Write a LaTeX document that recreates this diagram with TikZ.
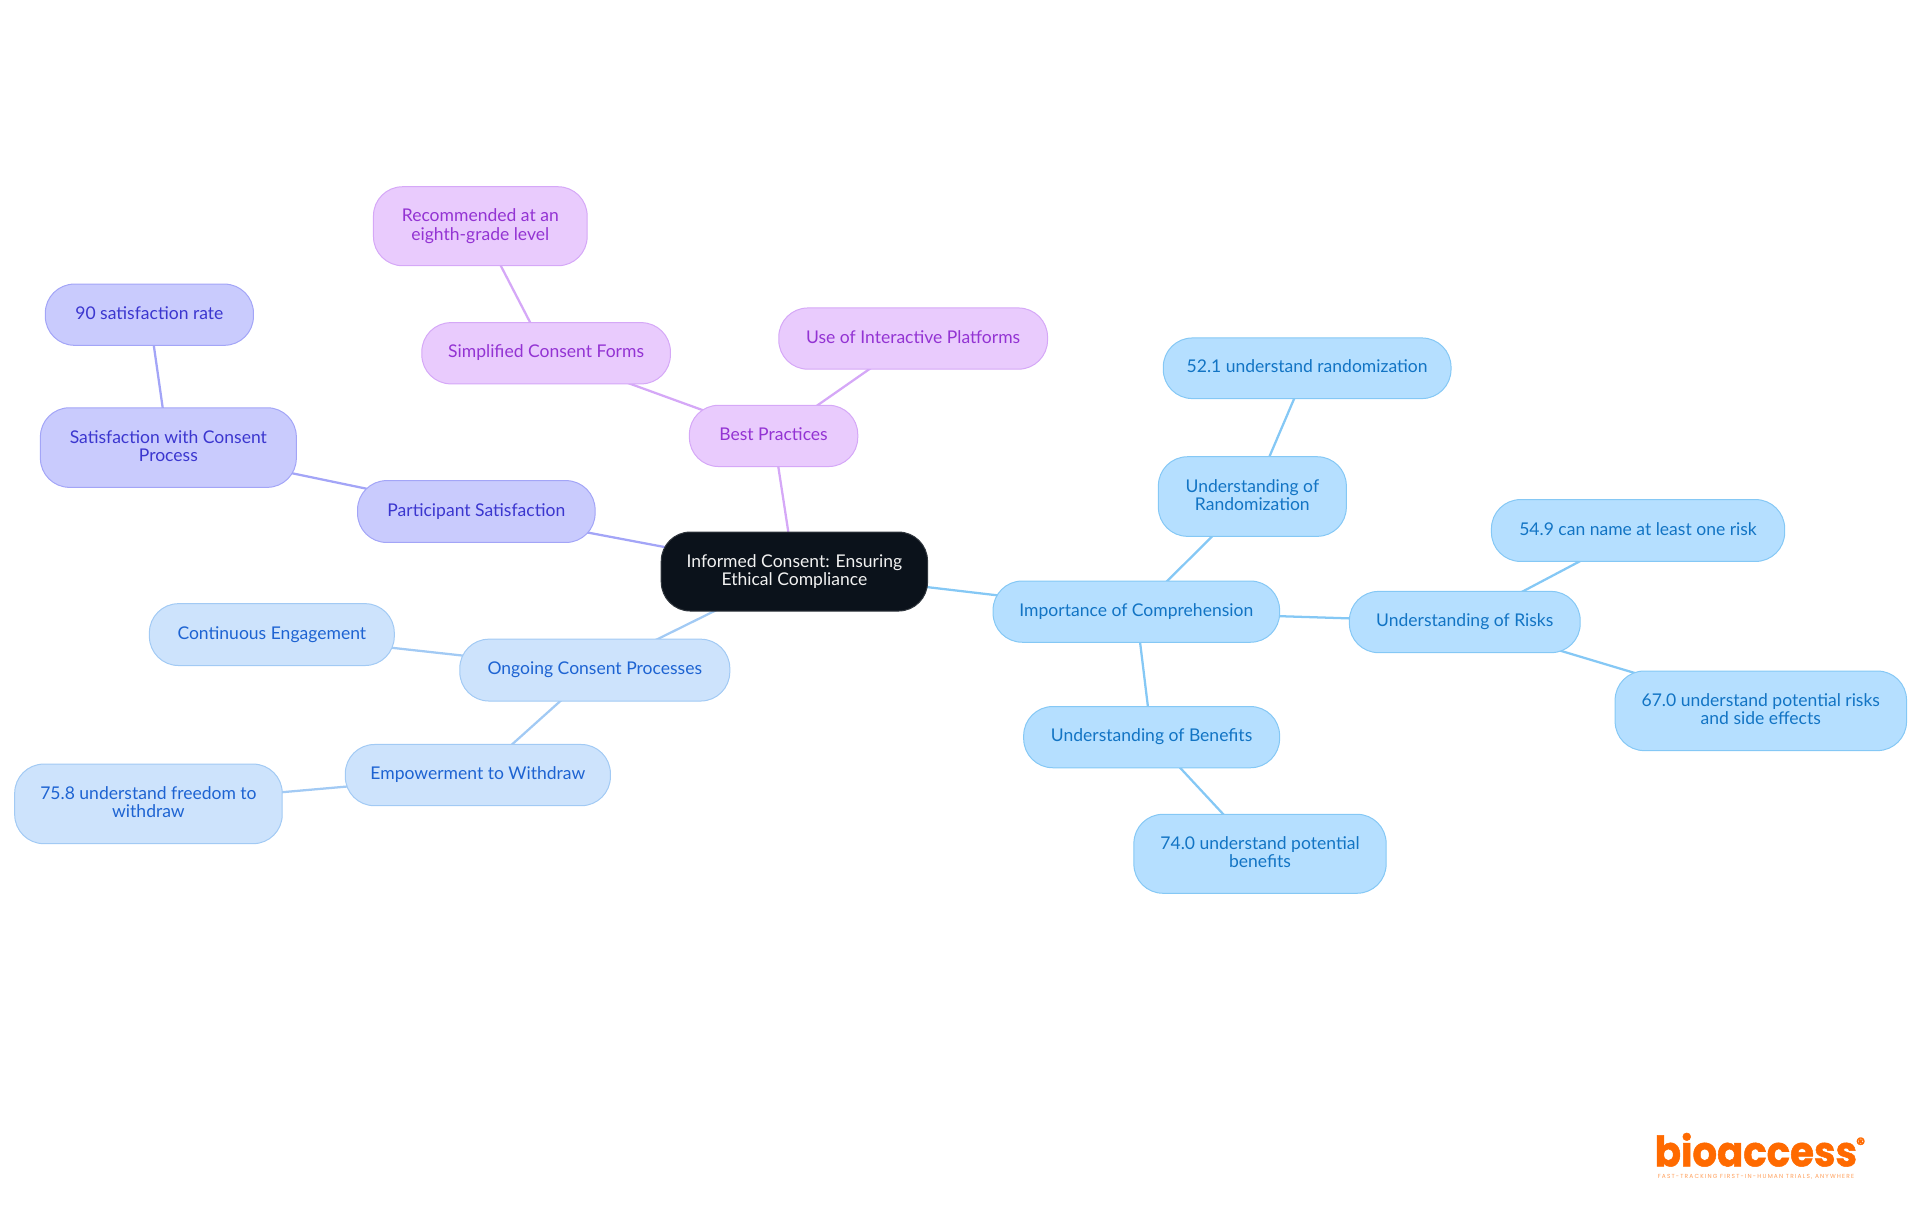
\documentclass[tikz,border=0pt]{standalone}
\usepackage{fontspec}
\setmainfont{Lato}
\newfontfamily\logofont[FakeBold=1.2]{Poppins}
\newfontfamily\logotag[LetterSpace=20]{Poppins}
\usetikzlibrary{backgrounds}
\definecolor{rootfill}{HTML}{0B121B}
\definecolor{skyfill}{HTML}{B5DFFF}
\definecolor{skyline}{HTML}{85C8F5}
\definecolor{skytext}{HTML}{1274C4}
\definecolor{bluefill}{HTML}{CDE3FC}
\definecolor{blueline}{HTML}{A2CAF4}
\definecolor{bluetext}{HTML}{1D63D2}
\definecolor{indfill}{HTML}{C9CBFD}
\definecolor{indline}{HTML}{A3A5F7}
\definecolor{indtext}{HTML}{3B36CF}
\definecolor{purfill}{HTML}{E9CBFD}
\definecolor{purline}{HTML}{D5A8F7}
\definecolor{purtext}{HTML}{9333D3}
\definecolor{logoorange}{HTML}{FF6A00}
\tikzset{
  x=0.9184pt,y=-0.9184pt,
  mm/.style={rounded corners=21.8pt,align=center,inner sep=0pt,line width=0.75pt,
    font=\fontsize{13.15}{13.7}\selectfont},
  rootbox/.style={mm,fill=rootfill,draw=rootfill!85!white,text=white!95!black},
  sky/.style={mm,fill=skyfill,draw=skyline,text=skytext},
  blu/.style={mm,fill=bluefill,draw=blueline,text=bluetext},
  ind/.style={mm,fill=indfill,draw=indline,text=indtext},
  pur/.style={mm,fill=purfill,draw=purline,text=purtext},
  skyedge/.style={draw=skyline,line width=1.7pt},
  bluedge/.style={draw=blueline,line width=1.7pt},
  indedge/.style={draw=indline,line width=1.7pt},
  puredge/.style={draw=purline,line width=1.7pt},
}
\newcommand{\mapstrut}{\rule[-0.2em]{0pt}{0.8em}}
\newcommand{\mapnode}[7]{%
  \pgfmathsetmacro{\mcx}{(#3+#4)/2}\pgfmathsetmacro{\mcy}{(#5+#6)/2}%
  \pgfmathsetmacro{\mw}{(#4-#3)*0.9184}\pgfmathsetmacro{\mh}{(#6-#5)*0.9184}%
  \node[#2,minimum width=\mw pt,minimum height=\mh pt] (#1) at (\mcx,\mcy) {\mapstrut #7\mapstrut};}
\begin{document}
\begin{tikzpicture}
\useasboundingbox (0,0) rectangle (1568,992.25);
\mapnode{root}{rootbox}{540}{757.5}{434.5}{499}{Informed Consent: Ensuring\\Ethical Compliance}
\mapnode{best}{pur}{563}{700.5}{331}{381}{Best Practices}
\mapnode{simp}{pur}{344.5}{547.5}{263.5}{313.5}{Simplified Consent Forms}
\mapnode{reco}{pur}{305}{479.5}{152.5}{217}{Recommended at an\\eighth-grade level}
\mapnode{inter}{pur}{636}{855.5}{251.5}{301.5}{Use of Interactive Platforms}
\mapnode{part}{ind}{292}{486}{392.5}{443}{Participant Satisfaction}
\mapnode{sat}{ind}{33}{242}{333}{398}{Satisfaction with Consent\\Process}
\mapnode{ninety}{ind}{37}{207}{232}{282}{90 satisfaction rate}
\mapnode{ongo}{blu}{375.5}{596}{522}{572.5}{Ongoing Consent Processes}
\mapnode{cont}{blu}{122}{322}{493}{543.5}{Continuous Engagement}
\mapnode{empo}{blu}{282}{498.5}{608}{658}{Empowerment to Withdraw}
\mapnode{free}{blu}{12}{230.5}{624}{689}{75.8 understand freedom to\\withdraw}
\mapnode{impo}{sky}{811}{1045}{474.5}{524.5}{Importance of Comprehension}
\mapnode{rand}{sky}{946}{1099.5}{373}{438}{Understanding of\\Randomization}
\mapnode{randp}{sky}{950}{1185}{276}{325.5}{52.1 understand randomization}
\mapnode{risk}{sky}{1102}{1290.5}{483}{533}{Understanding of Risks}
\mapnode{riska}{sky}{1218}{1457.5}{408}{458.5}{54.9 can name at least one risk}
\mapnode{riskb}{sky}{1319}{1557}{548}{613}{67.0 understand potential risks\\and side effects}
\mapnode{bene}{sky}{836}{1045}{577}{627}{Understanding of Benefits}
\mapnode{benep}{sky}{926}{1132}{665}{729.5}{74.0 understand potential\\benefits}
\begin{scope}[on background layer]
\draw[puredge] (root.center) -- (best.center);
\draw[puredge] (best.center) -- (simp.center);
\draw[puredge] (simp.center) -- (reco.center);
\draw[puredge] (best.center) -- (inter.center);
\draw[indedge] (root.center) -- (part.center);
\draw[indedge] (part.center) -- (sat.center);
\draw[indedge] (sat.center) -- (ninety.center);
\draw[bluedge] (root.center) -- (ongo.center);
\draw[bluedge] (ongo.center) -- (cont.center);
\draw[bluedge] (ongo.center) -- (empo.center);
\draw[bluedge] (empo.center) -- (free.center);
\draw[skyedge] (root.center) -- (impo.center);
\draw[skyedge] (impo.center) -- (rand.center);
\draw[skyedge] (rand.center) -- (randp.center);
\draw[skyedge] (impo.center) -- (risk.center);
\draw[skyedge] (risk.center) -- (riska.center);
\draw[skyedge] (risk.center) -- (riskb.center);
\draw[skyedge] (impo.center) -- (bene.center);
\draw[skyedge] (bene.center) -- (benep.center);
\end{scope}
\node[inner sep=0pt,text=logoorange,font=\logofont\bfseries\fontsize{29}{29}\selectfont,yscale=1.08] (logo) at (1434,939) {bioaccess};
\node[inner sep=0pt,text=logoorange,font=\logofont\bfseries\fontsize{13}{13}\selectfont] (logor) at (1519.5,934) {®};
\node[inner sep=0pt,text=logoorange!65!white,font=\logotag\fontsize{4.4}{5}\selectfont] (logot) at (1434,961) {FAST-TRACKING FIRST-IN-HUMAN TRIALS, ANYWHERE};
\end{tikzpicture}
\end{document}
